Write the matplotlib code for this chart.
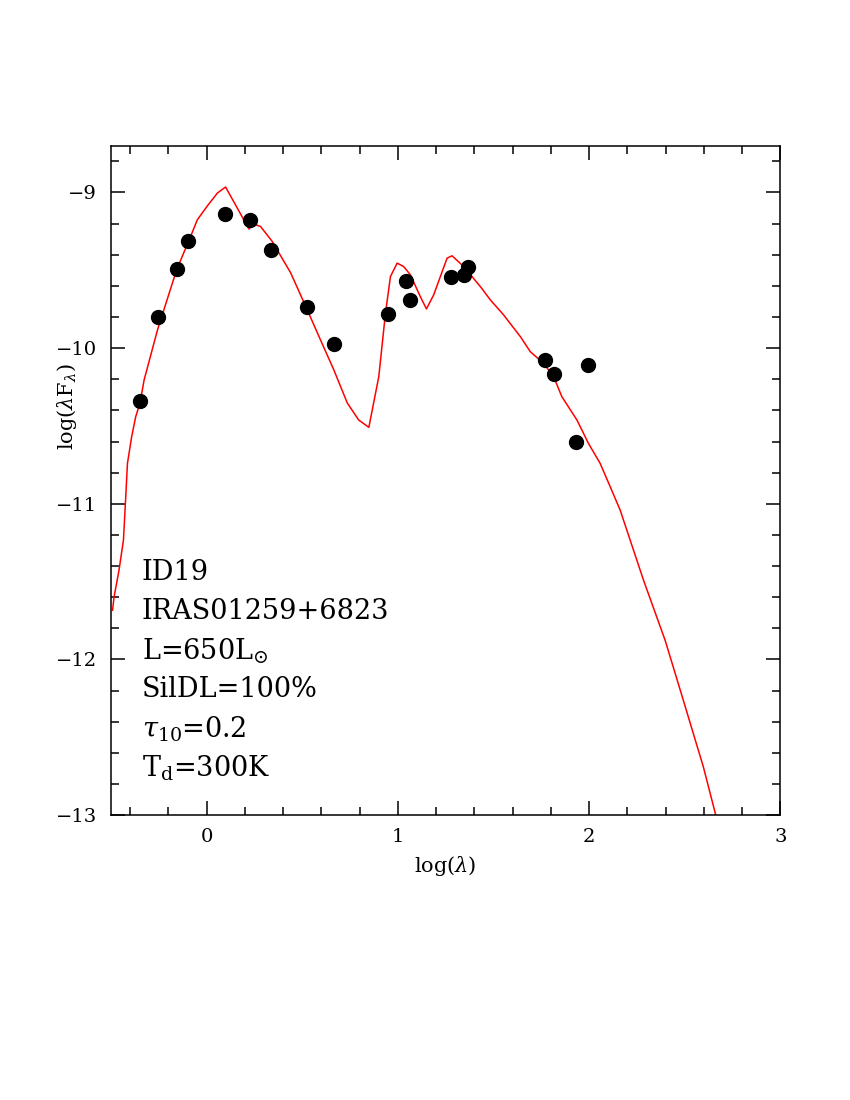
import matplotlib
matplotlib.use("Agg")
import matplotlib.pyplot as plt
from matplotlib.ticker import MultipleLocator

plt.rcParams["font.family"] = ["DejaVu Serif"]
plt.rcParams["mathtext.fontset"] = "dejavuserif"

# model SED (log lambda, log lambda F_lambda)
model_logl = [-0.492, -0.484, -0.458, -0.435, -0.423, -0.414, -0.392, -0.371, -0.348,
              -0.327, -0.257, -0.157, -0.084, -0.049, 0.004, 0.056, 0.099, 0.221,
              0.247, 0.282, 0.343, 0.439, 0.526, 0.595, 0.665, 0.735, 0.795, 0.848,
              0.900, 0.935, 0.961, 0.996, 1.030, 1.065, 1.117, 1.149, 1.187, 1.257,
              1.283, 1.344, 1.431, 1.483, 1.552, 1.640, 1.692, 1.761, 1.814, 1.857,
              1.936, 1.996, 2.057, 2.110, 2.162, 2.214, 2.284, 2.397, 2.492, 2.597,
              2.662]
model_logf = [-11.684, -11.598, -11.426, -11.233, -10.955, -10.740, -10.569, -10.441,
              -10.350, -10.205, -9.883, -9.497, -9.283, -9.176, -9.086, -9.004, -8.965,
              -9.235, -9.203, -9.219, -9.315, -9.516, -9.754, -9.947, -10.140, -10.352,
              -10.462, -10.509, -10.183, -9.774, -9.540, -9.454, -9.476, -9.529, -9.669,
              -9.748, -9.658, -9.422, -9.407, -9.476, -9.605, -9.690, -9.786, -9.926,
              -10.023, -10.097, -10.183, -10.312, -10.462, -10.612, -10.740, -10.891,
              -11.041, -11.233, -11.491, -11.877, -12.262, -12.691, -13.002]

# photometry
obs_logl = [-0.350, -0.254, -0.157, -0.099, 0.098, 0.225, 0.338, 0.527, 0.665,
            0.949, 1.044, 1.065, 1.279, 1.344, 1.367, 1.767, 1.816, 1.931, 1.996]
obs_logf = [-10.340, -9.797, -9.493, -9.313, -9.139, -9.174, -9.368, -9.733, -9.971,
            -9.780, -9.572, -9.692, -9.544, -9.529, -9.476, -10.074, -10.166, -10.601,
            -10.108]

labels = ["ID19", "IRAS01259+6823", r"L=650L$_{\odot}$", "SilDL=100%",
          r"$\tau_{10}$=0.2", r"T$_{\rm d}$=300K"]

fig = plt.figure(figsize=(8.5, 11), dpi=100)
ax = fig.add_axes([0.1306, 0.259, 0.9182 - 0.1306, 0.8675 - 0.259])

ax.plot(model_logl, model_logf, color="red", lw=1.1, zorder=2)
ax.plot(obs_logl, obs_logf, "o", color="black", ms=10, zorder=3)

ax.set_xlim(-0.5, 3)
ax.set_ylim(-13, -8.7)
ax.xaxis.set_major_locator(MultipleLocator(1))
ax.xaxis.set_minor_locator(MultipleLocator(0.2))
ax.yaxis.set_major_locator(MultipleLocator(1))
ax.yaxis.set_minor_locator(MultipleLocator(0.2))
ax.tick_params(which="both", direction="in", top=True, right=True, width=1.1,
               labelsize=14)
ax.tick_params(which="major", length=10)
ax.tick_params(which="minor", length=5.5)
ax.tick_params(axis="y", which="major", pad=10)
ax.tick_params(axis="x", which="major", pad=9)
for s in ax.spines.values():
    s.set_linewidth(1.1)

ax.set_xlabel(r"log($\lambda$)", fontsize=15, va="center")
ax.set_ylabel(r"log($\lambda$F$_\lambda$)", fontsize=15, va="center")
ax.xaxis.set_label_coords(0.5, -0.076)
ax.yaxis.set_label_coords(-0.066, 0.611)

for i, t in enumerate(labels):
    ax.text(0.046, 0.362 - i * 0.0583, t, transform=ax.transAxes,
            fontsize=19.5, va="center", ha="left")

fig.savefig("out.png", dpi=100)
